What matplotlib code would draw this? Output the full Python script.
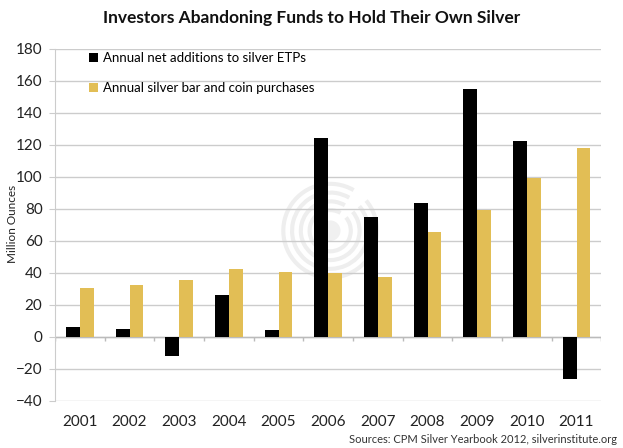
import matplotlib
matplotlib.use("Agg")
import matplotlib.pyplot as plt
from matplotlib.patches import Circle, Wedge
import numpy as np

plt.rcParams["font.family"] = ["Lato", "DejaVu Sans"]

years = ["2001", "2002", "2003", "2004", "2005", "2006",
         "2007", "2008", "2009", "2010", "2011"]
etp_additions = [6.3, 5, -12, 26, 4.6, 124, 75, 83.5, 155, 122.5, -26.5]
bar_coin = [30.3, 32.4, 35.8, 42.4, 40.4, 40, 37.5, 65.3, 79, 99.5, 118]

BLACK = "#000000"
GOLD = "#E2BE55"
GRID = "#CCCCCC"

fig = plt.figure(figsize=(6.23, 4.48), dpi=100)

# faint watermark behind the plot
wm = fig.add_axes([0.44, 0.37, 0.18, 0.23], zorder=0)
wm.set_aspect("equal")
wm.set_xlim(-1, 1)
wm.set_ylim(-1, 1)
wm.axis("off")
for r in (0.95, 0.78, 0.61, 0.44):
    wm.add_patch(Wedge((0, 0), r, 60, 400, width=0.08, color="#EEEEEE", lw=0))
wm.add_patch(Circle((0, 0), 0.2, color="#F0F0F0", lw=0))

ax = fig.add_axes([0.0883, 0.105, 0.877, 0.786], zorder=1)
ax.patch.set_alpha(0)

x = np.arange(len(years))
w = 0.28
ax.bar(x - w / 2, etp_additions, w, color=BLACK, label="Annual net additions to silver ETPs", zorder=3)
ax.bar(x + w / 2, bar_coin, w, color=GOLD, label="Annual silver bar and coin purchases", zorder=3)

ax.set_xlim(-0.5, len(years) - 0.5)
ax.set_ylim(-40, 180)
ax.set_yticks(range(-40, 181, 20))
ax.yaxis.grid(True, color=GRID, lw=1)
ax.set_axisbelow(True)
for s in ("top", "right", "bottom"):
    ax.spines[s].set_visible(False)
ax.spines["left"].set_color(GRID)

# category axis crosses at zero, tick marks between categories
ax.axhline(0, color="#BBBBBB", lw=1, zorder=2)
ax.vlines(np.arange(len(years) + 1) - 0.5, -2.5, 0, color="#BBBBBB", lw=1, zorder=2)

ax.set_xticks(x)
ax.set_xticklabels(years, fontsize=11, color="#222222")
ax.tick_params(axis="x", length=0, pad=10)
ax.tick_params(axis="y", length=4, color=GRID, labelsize=11, labelcolor="#222222", pad=5)

fig.text(0.02, 0.5, "Million Ounces", rotation=90, ha="center", va="center",
         fontsize=8.5, color="#222222")

ax.legend(loc="upper left", bbox_to_anchor=(0.04, 1.025), frameon=False,
          fontsize=9.5, handlelength=0.7, handleheight=0.7,
          handletextpad=0.4, labelspacing=1.4)

fig.text(0.5, 0.96, "Investors Abandoning Funds to Hold Their Own Silver",
         ha="center", va="center", fontsize=12.5, fontweight="bold", color="#111111")
fig.text(0.99, 0.02, "Sources: CPM Silver Yearbook 2012, silverinstitute.org",
         ha="right", va="center", fontsize=8, color="#333333")

fig.savefig("out.png", dpi=100)
